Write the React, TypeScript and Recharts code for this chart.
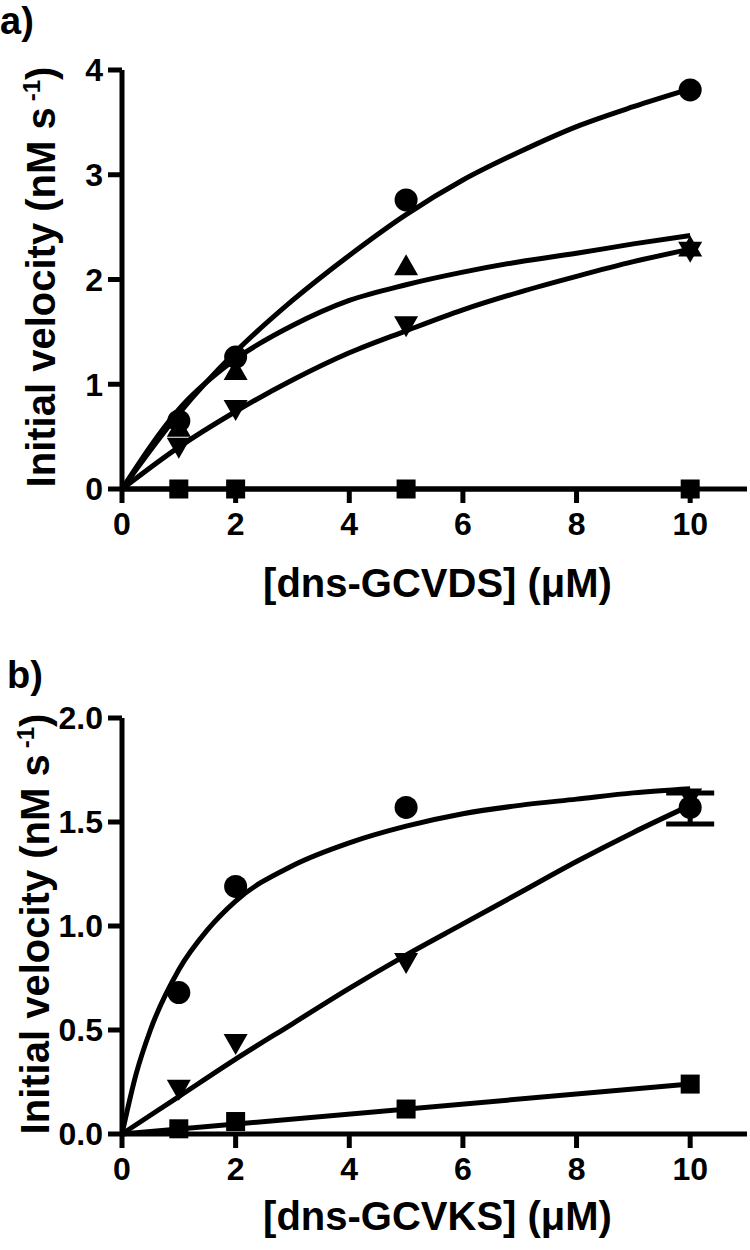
import { ComposedChart, XAxis, YAxis, Line, Scatter, ErrorBar } from 'recharts';

const FONT = "'Liberation Sans', Arial, Helvetica, sans-serif";

// panel a) – [dns-GCVDS]
const concA = [1, 2, 5, 10];
const circleA = [0.65, 1.26, 2.76, 3.81];
const triUpA = [0.6, 1.14, 2.14, 2.32];
const triDownA = [0.39, 0.75, 1.55, 2.26];
const squareA = [0, 0, 0, 0];

const fitXA = [0, 1, 2, 3, 4, 5, 6, 7, 8, 9, 10];
const fitCircleA = [0, 0.72, 1.31, 1.8, 2.23, 2.62, 2.95, 3.22, 3.46, 3.65, 3.82];
const fitUpA = [0, 0.76, 1.24, 1.56, 1.8, 1.95, 2.07, 2.17, 2.25, 2.34, 2.42];
const fitDownA = [0, 0.4, 0.74, 1.04, 1.3, 1.51, 1.71, 1.88, 2.03, 2.17, 2.29];
const fitSquareXA = [0, 10];
const fitSquareA = [0, 0];
const yTicksA = [0, 1, 2, 3, 4];

// panel b) – [dns-GCVKS]
const concB = [1, 2, 5, 10];
const circleB = [0.68, 1.19, 1.57, 1.57];
const triDownB = [0.21, 0.43, 0.82, 1.61];
const squareB = [0.025, 0.06, 0.12, 0.24];
// the only point with a visible error bar (circle at 10 µM)
const errXB = [10];
const errYB = [1.57];
const errLowB = [0.08];
const errHighB = [0.07];

const fitCircleXB = [0, 0.25, 0.5, 1, 1.5, 2, 3, 4, 5, 6, 7, 8, 9, 10];
const fitCircleB = [0, 0.29, 0.5, 0.79, 0.98, 1.12, 1.29, 1.4, 1.48, 1.54, 1.58, 1.61, 1.64, 1.66];
const fitXB = [0, 1, 2, 3, 4, 5, 6, 7, 8, 9, 10];
const fitDownB = [0, 0.18, 0.36, 0.53, 0.7, 0.86, 1.01, 1.16, 1.31, 1.45, 1.58];
const fitSquareXB = [0, 10];
const fitSquareB = [0, 0.24];
const yTicksB = [0, 0.5, 1, 1.5, 2];

const xTicks = [0, 2, 4, 6, 8, 10];

const zip = (xs: number[], ys: number[]) => xs.map((x, i) => ({ x, y: ys[i] }));

type Kind = 'circle' | 'square' | 'up' | 'down' | 'none';

const Marker = ({ cx, cy, kind }: { cx?: number; cy?: number; kind: Kind }) => {
  if (cx == null || cy == null || kind === 'none') return null;
  if (kind === 'circle') return <circle cx={cx} cy={cy} r={11.5} fill="#000" />;
  if (kind === 'square') return <rect x={cx - 9.5} y={cy - 9.5} width={19} height={19} fill="#000" />;
  const w = 12;
  const h = 10.5;
  const d =
    kind === 'up'
      ? `M${cx},${cy - h}L${cx + w},${cy + h}L${cx - w},${cy + h}Z`
      : `M${cx},${cy + h}L${cx + w},${cy - h}L${cx - w},${cy - h}Z`;
  return <path d={d} fill="#000" />;
};

const tickStyle = { fill: '#000', fontSize: 32, fontWeight: 700, fontFamily: FONT };
const axisStroke = { stroke: '#000', strokeWidth: 5 };

const titleFont = {
  fontFamily: FONT,
  fontWeight: 700,
  fontSize: 40,
  lineHeight: '40px',
  color: '#000',
  whiteSpace: 'nowrap' as const,
};

type Curve = { xs: number[]; ys: number[] };
type Points = { kind: Kind; xs: number[]; ys: number[]; errLow?: number[]; errHigh?: number[] };

type PanelProps = {
  tag: string;
  xTitle: string;
  yMax: number;
  yTicks: number[];
  fmt: (v: number) => string;
  top: number;
  xAxisHeight: number;
  xTitleTop: number;
  yTitleBaseline: number;
  yTitleCenter: number;
  tagTop: number;
  tagLeft: number;
  curves: Curve[];
  points: Points[];
};

function Panel(p: PanelProps) {
  return (
    <div style={{ position: 'relative', width: 750, height: 625 }}>
      <div style={{ ...titleFont, fontSize: 38, lineHeight: 1, position: 'absolute', left: p.tagLeft, top: p.tagTop }}>
        {p.tag}
      </div>
      <ComposedChart width={750} height={625} margin={{ top: p.top, right: 3, bottom: 0, left: 0 }}>
        <XAxis
          type="number"
          dataKey="x"
          domain={[0, 11]}
          ticks={xTicks}
          tick={tickStyle}
          tickSize={14}
          tickMargin={9}
          axisLine={axisStroke}
          tickLine={axisStroke}
          height={p.xAxisHeight}
        />
        <YAxis
          type="number"
          dataKey="y"
          domain={[0, p.yMax]}
          ticks={p.yTicks}
          tickFormatter={p.fmt}
          tick={tickStyle}
          tickSize={14}
          tickMargin={5}
          axisLine={axisStroke}
          tickLine={axisStroke}
          width={122}
        />
        {p.curves.map((c, i) => (
          <Line
            key={`c${i}`}
            data={zip(c.xs, c.ys)}
            dataKey="y"
            type="monotone"
            stroke="#000"
            strokeWidth={5}
            dot={false}
            activeDot={false}
            isAnimationActive={false}
          />
        ))}
        {p.points.map((s, i) => (
          <Scatter
            key={`s${i}`}
            data={s.xs.map((x, j) => ({
              x,
              y: s.ys[j],
              err: s.errLow ? [s.errLow[j], s.errHigh ? s.errHigh[j] : 0] : undefined,
            }))}
            shape={(props: any) => <Marker cx={props.cx} cy={props.cy} kind={s.kind} />}
            isAnimationActive={false}
          >
            {s.errLow ? (
              <ErrorBar dataKey="err" direction="y" width={24} stroke="#000" strokeWidth={5} />
            ) : null}
          </Scatter>
        ))}
      </ComposedChart>
      {/* axis titles */}
      <div
        style={{
          ...titleFont,
          position: 'absolute',
          left: 125,
          width: 625,
          top: p.xTitleTop,
          textAlign: 'center',
        }}
      >
        {p.xTitle}
      </div>
      <div
        style={{
          ...titleFont,
          position: 'absolute',
          width: 500,
          height: 40,
          left: p.yTitleBaseline - 13.9 - 250,
          top: p.yTitleCenter - 20,
          textAlign: 'center',
          transform: 'rotate(-90deg)',
        }}
      >
        Initial velocity (nM s
        <span style={{ fontSize: 24, lineHeight: 0, verticalAlign: 15, marginLeft: 6 }}>-1</span>)
      </div>
    </div>
  );
}

export default function App() {
  return (
    <div style={{ position: 'absolute', left: 0, top: 0, width: 750, height: 1250, background: '#fff' }}>
      <Panel
        tag="a)"
        xTitle="[dns-GCVDS] (μM)"
        yMax={4}
        yTicks={yTicksA}
        fmt={(v) => String(v)}
        top={70}
        xAxisHeight={136}
        xTitleTop={563}
        yTitleBaseline={55}
        yTitleCenter={277}
        tagTop={2}
        tagLeft={0}
        curves={[
          { xs: fitXA, ys: fitCircleA },
          { xs: fitXA, ys: fitUpA },
          { xs: fitXA, ys: fitDownA },
          { xs: fitSquareXA, ys: fitSquareA },
        ]}
        points={[
          { kind: 'square', xs: concA, ys: squareA },
          { kind: 'down', xs: concA, ys: triDownA },
          { kind: 'up', xs: concA, ys: triUpA },
          { kind: 'circle', xs: concA, ys: circleA },
        ]}
      />
      <Panel
        tag="b)"
        xTitle="[dns-GCVKS] (μM)"
        yMax={2}
        yTicks={yTicksB}
        fmt={(v) => v.toFixed(1)}
        top={93}
        xAxisHeight={116}
        xTitleTop={571}
        yTitleBaseline={49}
        yTitleCenter={299}
        tagTop={31}
        tagLeft={7}
        curves={[
          { xs: fitCircleXB, ys: fitCircleB },
          { xs: fitXB, ys: fitDownB },
          { xs: fitSquareXB, ys: fitSquareB },
        ]}
        points={[
          { kind: 'square', xs: concB, ys: squareB },
          { kind: 'down', xs: concB, ys: triDownB },
          { kind: 'none', xs: errXB, ys: errYB, errLow: errLowB, errHigh: errHighB },
          { kind: 'circle', xs: concB, ys: circleB },
        ]}
      />
    </div>
  );
}
